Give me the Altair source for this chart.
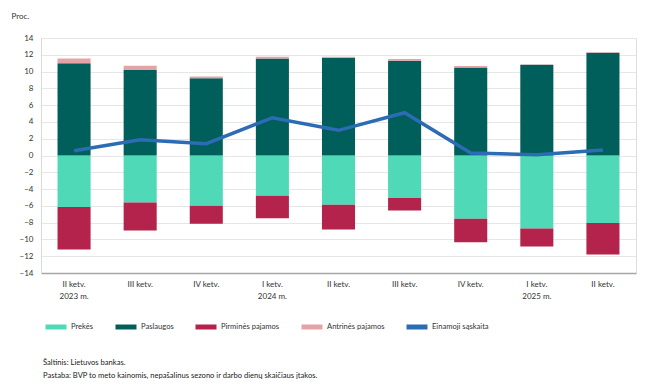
import altair as alt
import pandas as pd

quarters = ["II ketv.", "III ketv.", "IV ketv.", "I ketv.", "II ketv.", "III ketv.", "IV ketv.", "I ketv.", "II ketv."]
years = ["2023 m.", "", "", "2024 m.", "", "", "", "2025 m.", ""]

series = ["Prekės", "Paslaugos", "Pirminės pajamos", "Antrinės pajamos", "Einamoji sąskaita"]
colors = ["#4fd9b6", "#005e5b", "#b3234b", "#e6a3a6", "#2b6cb5"]

prekes = [-6.15, -5.6, -6.0, -4.8, -5.88, -5.05, -7.55, -8.7, -8.05]
paslaugos = [11.0, 10.2, 9.2, 11.56, 11.64, 11.3, 10.5, 10.8, 12.25]
pirmines = [-5.05, -3.34, -2.14, -2.67, -2.94, -1.5, -2.8, -2.15, -3.75]
antrines = [0.56, 0.5, 0.22, 0.2, 0.12, 0.2, 0.15, 0.05, 0.05]
einamoji = [0.56, 1.87, 1.4, 4.5, 3.0, 5.1, 0.3, 0.1, 0.65]

rows = []
for i in range(len(quarters)):
    for s, vals in zip(series[:4], [prekes, paslaugos, pirmines, antrines]):
        rows.append({"idx": i, "series": s, "value": vals[i], "order": series.index(s)})
bars_df = pd.DataFrame(rows)
line_df = pd.DataFrame({"idx": list(range(len(quarters))), "series": series[4], "value": einamoji})

label_arr = "[" + ",".join(
    "[" + ",".join(f"'{t}'" for t in ([q, y] if y else [q])) + "]" for q, y in zip(quarters, years)
) + "]"

FONT = "Lato"
TXT = "#333333"
scale = alt.Scale(domain=series, range=colors)

x = alt.X("idx:O", title=None,
          axis=alt.Axis(labelExpr=label_arr + "[datum.value]", labelAngle=0, ticks=False,
                        domainColor="#a6a6a6", domainWidth=1.5, labelFontSize=8,
                        labelColor=TXT, labelPadding=7, labelFont=FONT, labelLineHeight=12),
          scale=alt.Scale(paddingInner=0.5, paddingOuter=0.25))
y = alt.Y("value:Q", title="Proc.",
          scale=alt.Scale(domain=[-14, 14], nice=False),
          axis=alt.Axis(values=list(range(-14, 15, 2)), ticks=False, domainColor="#d9d9d9",
                        gridColor="#e6e6e6", labelFontSize=8, labelColor=TXT, labelPadding=8,
                        labelFont=FONT, titleAngle=0, titleAlign="left", titleBaseline="middle",
                        titleX=-30, titleY=-22, titleFontSize=8, titleFontWeight="normal",
                        titleFont=FONT, titleColor=TXT))

legend = alt.Legend(title=None, orient="none", direction="horizontal", legendX=2, legendY=276,
                    symbolType="stroke", symbolStrokeWidth=5, symbolSize=441,
                    labelFontSize=7.6, labelFont=FONT, labelColor=TXT,
                    columnPadding=11, labelOffset=2)

bars = alt.Chart(bars_df).mark_bar().encode(
    x=x, y=y,
    color=alt.Color("series:N", scale=scale, legend=legend),
    order=alt.Order("order:Q"),
)
line = alt.Chart(line_df).mark_line(strokeWidth=3.5).encode(
    x=x, y=y,
    color=alt.Color("series:N", scale=scale, legend=legend),
)

chart = alt.layer(bars, line).properties(
    width=595, height=235,
    title=alt.TitleParams(
        ["Šaltinis: Lietuvos bankas.",
         "Pastaba: BVP to meto kainomis, nepašalinus sezono ir darbo dienų skaičiaus įtakos."],
        orient="bottom", anchor="start", frame="group", fontSize=7.6, fontWeight="normal",
        font=FONT, color="#222222", offset=22, lineHeight=13, dx=2),
    padding={"left": 3, "top": 4, "right": 5, "bottom": 5},
).configure_view(stroke=None).configure(background="white")

chart.save("out.html", embed_options={"renderer": "svg", "actions": False})
